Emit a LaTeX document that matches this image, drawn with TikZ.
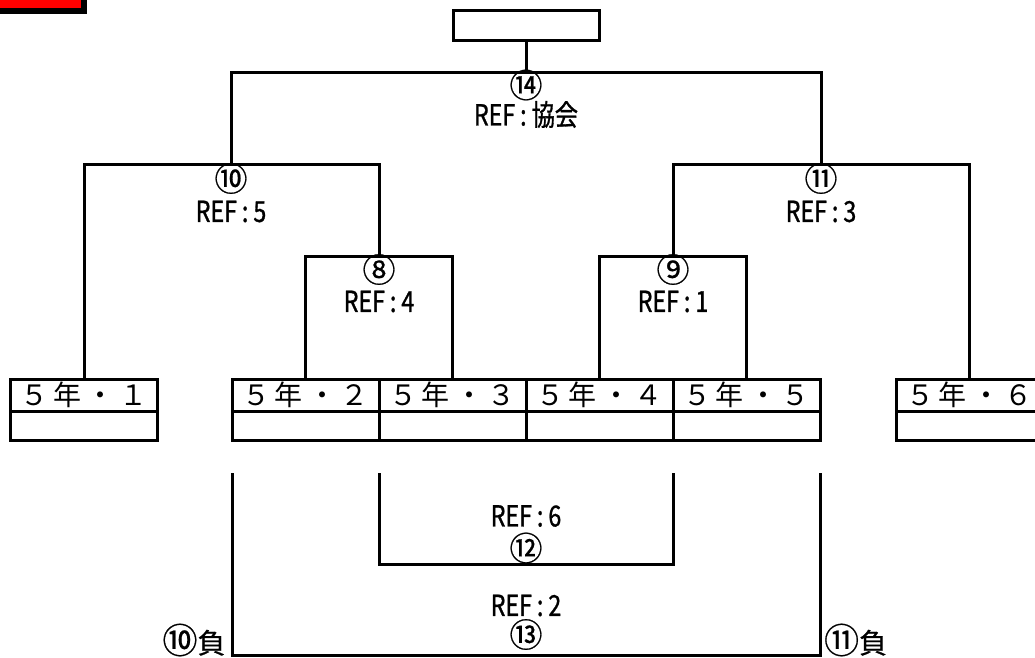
\documentclass[tikz,border=0pt]{standalone}
\usepackage{fontspec}
\setmainfont{Noto Sans CJK JP}
\newfontfamily\reffam[FakeStretch=0.8,FakeBold=1]{Noto Sans CJK JP}
\newfontfamily\circfam[FakeBold=0.6]{Noto Sans CJK JP}
\newcommand\reffont{\reffam\fontsize{29}{29}\selectfont}
\newcommand\circfont{\circfam\fontsize{33}{33}\selectfont}
\newcommand\losefont{\circfam\fontsize{28}{28}\selectfont}
\newcommand\teamfont{\fontsize{28}{28}\selectfont}
\newcommand\tm[1]{５\kern5pt年\kern5pt・\kern5pt#1}
\newcommand\bigc[1]{{\fontsize{35}{28}\selectfont #1}}
\newcommand\rf[1]{REF\kern5pt:\kern5pt#1}
\begin{document}
\begin{tikzpicture}[x=1pt,y=-1pt,line width=3pt,
  box/.style={draw,line width=3pt,inner sep=0pt,minimum width=147pt},
  team/.style={box,minimum height=31.5pt,font=\teamfont},
  blank/.style={box,minimum height=29.5pt},
  lbl/.style={inner sep=0pt,font=\reffont},
  circ/.style={inner sep=0pt,font=\circfont},
  lose/.style={inner sep=0pt,font=\losefont}]
\useasboundingbox (0,0) rectangle (1035,657);
\clip (0,0) rectangle (1035,657);
\fill[white] (0,0) rectangle (1035,657);
% red marker
\filldraw[fill=red,draw=black,line width=6pt] (-10,-10) rectangle (84,11);
% final box
\node[box,minimum height=30pt,minimum width=146pt] (final) at (526,25.8) {};
% teams
\node[team] (t1) at (84,395.25) {\tm{１}};
\node[team] (t2) at (305.5,395.25) {\tm{２}};
\node[team] (t3) at (452.5,395.25) {\tm{３}};
\node[team] (t4) at (599.5,395.25) {\tm{４}};
\node[team] (t5) at (746.5,395.25) {\tm{５}};
\node[team] (t6) at (969.5,395.25) {\tm{６}};
\node[blank] (b1) at (84,425.75) {};
\node[blank] (b2) at (305.5,425.75) {};
\node[blank] (b3) at (452.5,425.75) {};
\node[blank] (b4) at (599.5,425.75) {};
\node[blank] (b5) at (746.5,425.75) {};
\node[blank] (b6) at (969.5,425.75) {};
% junctions
\coordinate (c8) at (379,256);
\coordinate (c9) at (673,256);
\coordinate (c10) at (231,164);
\coordinate (c11) at (821,164);
\coordinate (c14) at (526,72);
\draw (t2.north) |- (c8) -| (t3.north);
\draw (t4.north) |- (c9) -| (t5.north);
\draw (t1.north) |- (c10) -| (c8);
\draw (c9) |- (c11) -| (t6.north);
\draw (c10) |- (c14) -| (c11);
\draw (c14) -- (final.south);
% lower brackets
\coordinate (d12l) at (379,473);
\coordinate (d12r) at (673,473);
\coordinate (c12) at (526,564);
\draw (d12l) |- (c12) -| (d12r);
\coordinate (d13l) at (232,473);
\coordinate (d13r) at (820,473);
\coordinate (c13) at (526,655);
\draw (d13l) |- (c13) -| (d13r);
% labels
\node[circ] (n14) at (526,85) {⑭};
\node[lbl] (r14) at (526,114.5) {\rf{協会}};
\node[circ] (n10) at (231,178.5) {⑩};
\node[lbl] (r10) at (231,211.5) {\rf{5}};
\node[circ] (n11) at (821,178.5) {⑪};
\node[lbl] (r11) at (821,211.5) {\rf{3}};
\node[circ] (n8) at (379,269.5) {⑧};
\node[lbl] (r8) at (379,301.5) {\rf{4}};
\node[circ] (n9) at (673,269.5) {⑨};
\node[lbl] (r9) at (673,301.5) {\rf{1}};
\node[lbl] (r12) at (526,516) {\rf{6}};
\node[circ] (n12) at (526,548) {⑫};
\node[lbl] (r13) at (526,605.5) {\rf{2}};
\node[circ] (n13) at (526,634.5) {⑬};
\node[lose] (l10) at (194,640) {\bigc{⑩}負};
\node[lose] (l11) at (855.6,640) {\bigc{⑪}負};
\end{tikzpicture}
\end{document}
